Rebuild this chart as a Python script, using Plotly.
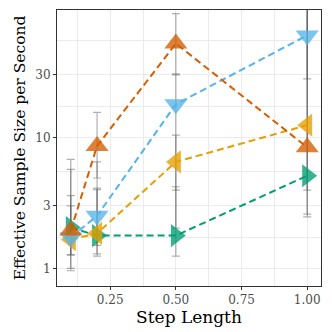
import plotly.graph_objects as go

# step lengths (x) and effective sample size per second per sampler
steps = [0.1, 0.2, 0.5, 1.0]

ess_orange = [1.95, 8.6, 52, 8.4]
hi_orange = [6.8, 15.5, 88, 110]
lo_orange = [1.27, 4.9, 30, 2.6]

ess_blue = [1.72, 2.52, 17.9, 60]
hi_blue = [3.6, 6.5, 30.5, 160]
lo_blue = [0.96, 1.29, 3.96, 28]

ess_yellow = [1.66, 1.85, 6.5, 12.4]
hi_yellow = [3.0, 4.1, 10.4, 120]
lo_yellow = [1.0, 1.24, 2.03, 3.96]

ess_green = [2.05, 1.78, 1.78, 5.1]
hi_green = [5.7, 4.0, 4.2, 100]
lo_green = [1.27, 1.5, 1.24, 2.47]

# drawn in this order, so orange ends up on top
series = [
    (ess_green, hi_green, lo_green, "#009E73", "triangle-right"),
    (ess_yellow, hi_yellow, lo_yellow, "#E69F00", "triangle-left"),
    (ess_blue, hi_blue, lo_blue, "#56B4E9", "triangle-down"),
    (ess_orange, hi_orange, lo_orange, "#D55E00", "triangle-up"),
]

serif = "DejaVu Serif"
fig = go.Figure()

# error bars first so they sit under everything
for ess, hi, lo, col, sym in series:
    fig.add_trace(go.Scatter(
        x=steps, y=ess, mode="markers",
        marker=dict(size=0, opacity=0),
        error_y=dict(type="data", symmetric=False,
                     array=[h - e for h, e in zip(hi, ess)],
                     arrayminus=[e - l for e, l in zip(ess, lo)],
                     color="rgba(80,80,80,0.45)", thickness=1.2, width=4),
        hoverinfo="skip", showlegend=False,
    ))

# dashed lines
for ess, hi, lo, col, sym in series:
    fig.add_trace(go.Scatter(
        x=steps, y=ess, mode="lines",
        line=dict(color=col, width=2, dash="7px,4px"),
        showlegend=False,
    ))

# markers on top
for ess, hi, lo, col, sym in series:
    fig.add_trace(go.Scatter(
        x=steps, y=ess, mode="markers",
        marker=dict(symbol=sym, size=20, color=col, opacity=0.78, line=dict(width=0)),
        showlegend=False,
    ))

grid = "#EBEBEB"
# page body adds an 8px offset, so the figure is 8px smaller
fig.update_layout(
    width=324, height=324,
    margin=dict(l=49, r=11, t=2, b=46),
    paper_bgcolor="white", plot_bgcolor="white",
    font=dict(family=serif, color="#4D4D4D"),
    xaxis=dict(
        range=[0.0475, 1.0525],
        tickvals=[0.25, 0.5, 0.75, 1.0],
        ticktext=["0.25", "0.50", "0.75", "1.00"],
        tickfont=dict(size=12, color="#4D4D4D"),
        ticks="outside", ticklen=3, tickcolor="#333333",
        showgrid=True, gridcolor=grid, gridwidth=1.2,
        minor=dict(tickvals=[0.125, 0.375, 0.625, 0.875], showgrid=True,
                   gridcolor=grid, gridwidth=0.6, ticks=""),
        showline=True, mirror=True, linecolor="#333333", linewidth=1,
        zeroline=False,
        title=dict(text="Step Length", font=dict(size=17, color="black"), standoff=4),
    ),
    yaxis=dict(
        type="log",
        range=[-0.134, 1.972],
        tickvals=[1, 3, 10, 30],
        ticktext=["1", "3", "10", "30"],
        tickfont=dict(size=12, color="#4D4D4D"),
        ticks="outside", ticklen=3, tickcolor="#333333",
        showgrid=True, gridcolor=grid, gridwidth=1.2,
        minor=dict(tickvals=[1.732, 5.477, 17.32, 54.77], showgrid=True,
                   gridcolor=grid, gridwidth=0.6, ticks=""),
        showline=True, mirror=True, linecolor="#333333", linewidth=1,
        zeroline=False,
        title=dict(text="Effective Sample Size per Second", font=dict(size=15.5, color="black"), standoff=5),
    ),
)

fig.write_html("out.html")
